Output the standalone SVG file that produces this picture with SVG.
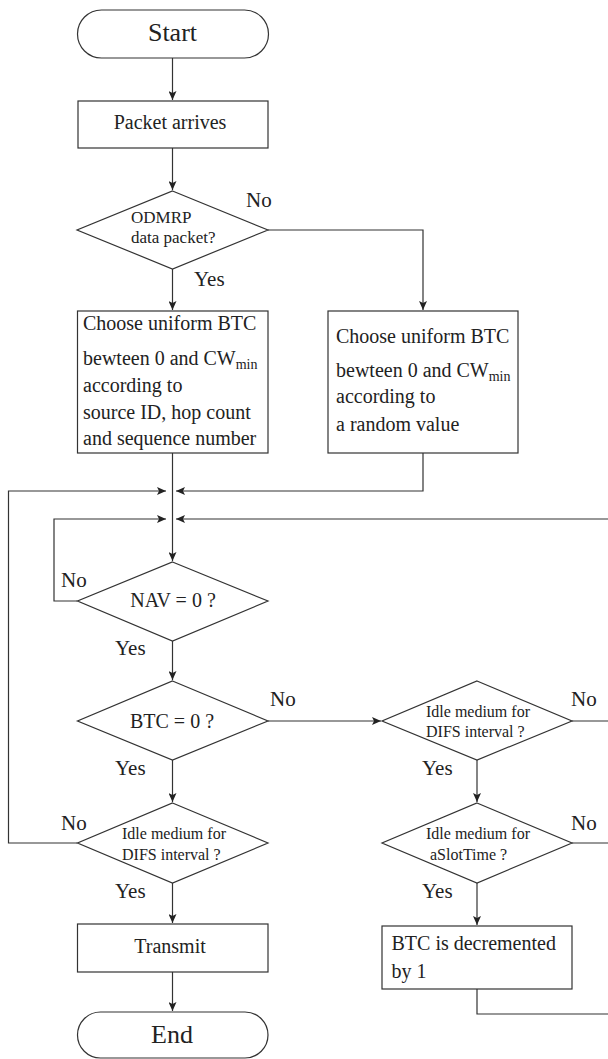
<svg xmlns="http://www.w3.org/2000/svg" width="608" height="1059" viewBox="0 0 608 1059" font-family="'Liberation Serif', serif">
<defs>
<style>
.s{fill:#fff;stroke:#333;stroke-width:1.2}
.c{fill:none;stroke:#333;stroke-width:1.2}
text{fill:#222;font-family:'Liberation Serif',serif}
.t26{font-size:26px;text-anchor:middle}
.t20{font-size:20px}
.t20m{font-size:20px;text-anchor:middle}
.t17{font-size:17px}
.t16{font-size:16px}
.sub{font-size:14px}
.lbl{font-size:21px}
</style>
<marker id="ah" markerUnits="userSpaceOnUse" markerWidth="10" markerHeight="8" refX="9" refY="4" orient="auto">
<path d="M0,0 L9,4 L0,8 L2,4 z" fill="#222"/>
</marker>
</defs>
<g id="connectors">
<path class="c" d="M172.5,58 V100" marker-end="url(#ah)"/>
<path class="c" d="M172.5,148 V190" marker-end="url(#ah)"/>
<path class="c" d="M172.5,269 V310" marker-end="url(#ah)"/>
<path class="c" d="M268,230 H423 V310" marker-end="url(#ah)"/>
<path class="c" d="M172.5,453 V561" marker-end="url(#ah)"/>
<path class="c" d="M423,453 V491 H176" marker-end="url(#ah)"/>
<path class="c" d="M77.5,843 H8.5 V491 H166" marker-end="url(#ah)"/>
<path class="c" d="M77.5,601 H54 V519 H166" marker-end="url(#ah)"/>
<path class="c" d="M608,519 H176" marker-end="url(#ah)"/>
<path class="c" d="M172.5,641 V680" marker-end="url(#ah)"/>
<path class="c" d="M268,721 H381" marker-end="url(#ah)"/>
<path class="c" d="M172.5,760 V802" marker-end="url(#ah)"/>
<path class="c" d="M172.5,883 V923" marker-end="url(#ah)"/>
<path class="c" d="M172.5,972 V1011" marker-end="url(#ah)"/>
<path class="c" d="M477,760 V802" marker-end="url(#ah)"/>
<path class="c" d="M477,883 V925" marker-end="url(#ah)"/>
<path class="c" d="M572,721 H608"/>
<path class="c" d="M572,843 H608"/>
<path class="c" d="M477,989 V1014 H608"/>
<text class="lbl" x="246" y="207">No</text>
<text class="lbl" x="194" y="286">Yes</text>
<text class="lbl" x="61" y="587">No</text>
<text class="lbl" x="115" y="655">Yes</text>
<text class="lbl" x="270" y="706">No</text>
<text class="lbl" x="115" y="775">Yes</text>
<text class="lbl" x="61" y="830">No</text>
<text class="lbl" x="115" y="898">Yes</text>
<text class="lbl" x="571" y="706">No</text>
<text class="lbl" x="422" y="775">Yes</text>
<text class="lbl" x="571" y="830">No</text>
<text class="lbl" x="422" y="898">Yes</text>
</g>
<g id="start">
<rect class="s" x="77.5" y="10" width="191" height="48" rx="24" ry="24"/>
<text class="t26" x="172.5" y="41">Start</text>
</g>
<g id="packet">
<rect class="s" x="78" y="101" width="190" height="47"/>
<text class="t20m" x="170" y="129">Packet arrives</text>
</g>
<g id="odmrp">
<polygon class="s" points="172.5,191 268,230 172.5,269 77,230"/>
<text class="t17" x="131" y="223">ODMRP</text>
<text class="t17" x="131" y="243">data packet?</text>
</g>
<g id="choose1">
<rect class="s" x="77.5" y="311" width="190.5" height="142"/>
<text class="t20" x="83" y="330">Choose uniform BTC</text>
<text class="t20" x="83" y="365">bewteen 0 and CW<tspan class="sub" dy="4">min</tspan></text>
<text class="t20" x="83" y="392">according to</text>
<text class="t20" x="83" y="419">source ID, hop count</text>
<text class="t20" x="83" y="445">and sequence number</text>
</g>
<g id="choose2">
<rect class="s" x="328" y="311" width="190" height="142"/>
<text class="t20" x="336" y="343">Choose uniform BTC</text>
<text class="t20" x="336" y="377">bewteen 0 and CW<tspan class="sub" dy="4">min</tspan></text>
<text class="t20" x="336" y="403">according to</text>
<text class="t20" x="336" y="431">a random value</text>
</g>
<g id="nav">
<polygon class="s" points="172.5,562 268,601 172.5,641 77.5,601"/>
<text class="t20m" x="173" y="607">NAV = 0 ?</text>
</g>
<g id="btc">
<polygon class="s" points="172.5,681 268,721 172.5,760 77.5,721"/>
<text class="t20m" x="172" y="728">BTC = 0 ?</text>
</g>
<g id="difs1">
<polygon class="s" points="172.5,803 268,843 172.5,883 77.5,843"/>
<text class="t16" x="122" y="839">Idle medium for</text>
<text class="t16" x="122" y="860">DIFS interval ?</text>
</g>
<g id="transmit">
<rect class="s" x="77.5" y="924" width="190.5" height="48"/>
<text class="t20m" x="170" y="953">Transmit</text>
</g>
<g id="end">
<rect class="s" x="77.5" y="1012" width="190.5" height="46" rx="23" ry="23"/>
<text class="t26" x="172" y="1043">End</text>
</g>
<g id="difs2">
<polygon class="s" points="477,681 572,721 477,760 382,721"/>
<text class="t16" x="426" y="717">Idle medium for</text>
<text class="t16" x="426" y="737">DIFS interval ?</text>
</g>
<g id="slot">
<polygon class="s" points="477,803 572,843 477,883 382,843"/>
<text class="t16" x="426" y="839">Idle medium for</text>
<text class="t16" x="430" y="860">aSlotTime ?</text>
</g>
<g id="decrement">
<rect class="s" x="382" y="926" width="190" height="63"/>
<text class="t20" x="391.5" y="950">BTC is decremented</text>
<text class="t20" x="391.5" y="978">by 1</text>
</g>
</svg>
